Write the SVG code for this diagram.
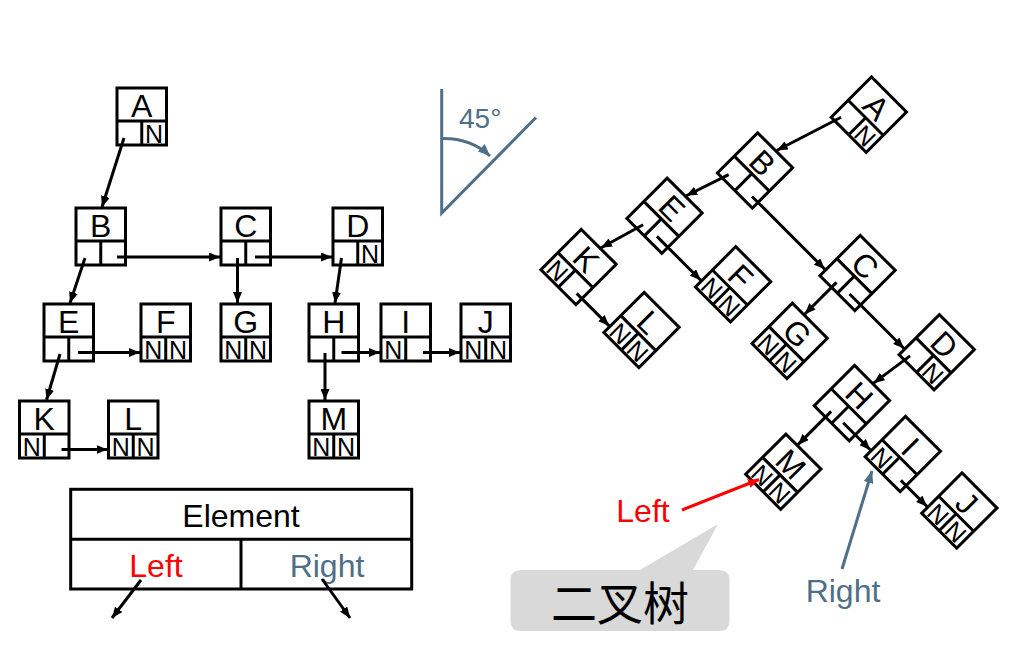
<svg xmlns="http://www.w3.org/2000/svg" xmlns:xlink="http://www.w3.org/1999/xlink" width="1029" height="667" viewBox="0 0 1029 667">
<style>
.bx{fill:none;stroke:#000;stroke-width:3}
.lbl{font-family:"Liberation Sans",Arial,sans-serif;font-size:32px;text-anchor:middle;fill:#000}
.n{font-family:"Liberation Sans",Arial,sans-serif;font-size:25px;text-anchor:middle;fill:#000}
.cn{fill:none;stroke:#000;stroke-width:3}
.txt{font-family:"Liberation Sans",Arial,sans-serif;font-size:32px;text-anchor:middle}
.slate{fill:#4F6F88}
.red{fill:#FF0000}
</style>
<defs>
<g id="box" class="bx"><rect x="0" y="0" width="49.5" height="57"/><line x1="0" y1="33" x2="49.5" y2="33"/><line x1="24.75" y1="33" x2="24.75" y2="57"/></g>
<marker id="ah" markerUnits="userSpaceOnUse" markerWidth="11" markerHeight="9" refX="11" refY="4.5" orient="auto"><path d="M0,0 L11,4.5 L0,9 z" fill="#000"/></marker>
<marker id="ahr" markerUnits="userSpaceOnUse" markerWidth="11" markerHeight="9" refX="11" refY="4.5" orient="auto"><path d="M0,0 L11,4.5 L0,9 z" fill="#FF0000"/></marker>
<marker id="ahs" markerUnits="userSpaceOnUse" markerWidth="12" markerHeight="10" refX="12" refY="5" orient="auto"><path d="M0,0 L12,5 L0,10 z" fill="#4F6F88"/></marker>
</defs>
<rect width="1029" height="667" fill="#fff"/>

<!-- Left tree -->
<g id="left-tree">
<g id="A" transform="translate(117,88)"><use xlink:href="#box"/><text class="lbl" x="24.75" y="29">A</text><text class="n" x="37.1" y="55">N</text></g>
<g id="B" transform="translate(76,208)"><use xlink:href="#box"/><text class="lbl" x="24.75" y="29">B</text></g>
<g id="C" transform="translate(221,208)"><use xlink:href="#box"/><text class="lbl" x="24.75" y="29">C</text></g>
<g id="D" transform="translate(333,208)"><use xlink:href="#box"/><text class="lbl" x="24.75" y="29">D</text><text class="n" x="37.1" y="55">N</text></g>
<g id="E" transform="translate(44,304)"><use xlink:href="#box"/><text class="lbl" x="24.75" y="29">E</text></g>
<g id="F" transform="translate(141,304)"><use xlink:href="#box"/><text class="lbl" x="24.75" y="29">F</text><text class="n" x="12.4" y="55">N</text><text class="n" x="37.1" y="55">N</text></g>
<g id="G" transform="translate(221,304)"><use xlink:href="#box"/><text class="lbl" x="24.75" y="29">G</text><text class="n" x="12.4" y="55">N</text><text class="n" x="37.1" y="55">N</text></g>
<g id="H" transform="translate(309,304)"><use xlink:href="#box"/><text class="lbl" x="24.75" y="29">H</text></g>
<g id="I" transform="translate(381,304)"><use xlink:href="#box"/><text class="lbl" x="24.75" y="29">I</text><text class="n" x="12.4" y="55">N</text></g>
<g id="J" transform="translate(461,304)"><use xlink:href="#box"/><text class="lbl" x="24.75" y="29">J</text><text class="n" x="12.4" y="55">N</text><text class="n" x="37.1" y="55">N</text></g>
<g id="K" transform="translate(19.5,401)"><use xlink:href="#box"/><text class="lbl" x="24.75" y="29">K</text><text class="n" x="12.4" y="55">N</text></g>
<g id="L" transform="translate(108.5,401)"><use xlink:href="#box"/><text class="lbl" x="24.75" y="29">L</text><text class="n" x="12.4" y="55">N</text><text class="n" x="37.1" y="55">N</text></g>
<g id="M" transform="translate(309,401)"><use xlink:href="#box"/><text class="lbl" x="24.75" y="29">M</text><text class="n" x="12.4" y="55">N</text><text class="n" x="37.1" y="55">N</text></g>
<g id="connectors" class="cn" marker-end="url(#ah)">
<path d="M124,138 L102,207"/>
<path d="M85,258 L70,303"/>
<path d="M117,257 L220,257"/>
<path d="M237.5,258 L237.5,303"/>
<path d="M255,257 L332,257"/>
<path d="M341.5,258 L335,303"/>
<path d="M60,354 L46.5,400"/>
<path d="M78,352.5 L140,352.5"/>
<path d="M325,353 L325,400"/>
<path d="M341.5,352.5 L380,352.5"/>
<path d="M423,352.5 L460,352.5"/>
<path d="M61.5,449.5 L107.5,449.5"/>
</g>
</g>

<!-- Legend -->
<g id="legend">
<rect x="70.7" y="489.3" width="341" height="99.7" class="bx"/>
<line x1="70.7" y1="539.3" x2="411.7" y2="539.3" class="bx"/>
<line x1="241" y1="539.3" x2="241" y2="589" class="bx"/>
<text class="txt" x="241" y="527" fill="#000">Element</text>
<text class="txt red" x="156" y="577">Left</text>
<text class="txt slate" x="327" y="577">Right</text>
<g class="cn" marker-end="url(#ah)">
<path d="M141,580 L112,618"/>
<path d="M322,579 L350,618"/>
</g>
</g>

<!-- Angle -->
<g id="angle" fill="none" stroke="#4F6F88" stroke-width="3">
<path d="M441.7,89 L441.7,213 L536,117.5"/>
<path d="M441.7,138.5 Q471,138 490,156" marker-end="url(#ahs)"/>
<text x="459" y="128" style="font-family:'Liberation Sans',Arial,sans-serif;font-size:28px" fill="#4F6F88" stroke="none">45°</text>
</g>

<!-- Right tree (rotated 45°) -->
<g id="right-tree" transform="translate(851,-68) rotate(45)">
<g id="r-A" transform="translate(117,88)"><use xlink:href="#box"/><text class="lbl" x="24.75" y="29">A</text><text class="n" x="37.1" y="55">N</text></g>
<g id="r-B" transform="translate(76,208)"><use xlink:href="#box"/><text class="lbl" x="24.75" y="29">B</text></g>
<g id="r-C" transform="translate(221,208)"><use xlink:href="#box"/><text class="lbl" x="24.75" y="29">C</text></g>
<g id="r-D" transform="translate(333,208)"><use xlink:href="#box"/><text class="lbl" x="24.75" y="29">D</text><text class="n" x="37.1" y="55">N</text></g>
<g id="r-E" transform="translate(44,304)"><use xlink:href="#box"/><text class="lbl" x="24.75" y="29">E</text></g>
<g id="r-F" transform="translate(141,304)"><use xlink:href="#box"/><text class="lbl" x="24.75" y="29">F</text><text class="n" x="12.4" y="55">N</text><text class="n" x="37.1" y="55">N</text></g>
<g id="r-G" transform="translate(221,304)"><use xlink:href="#box"/><text class="lbl" x="24.75" y="29">G</text><text class="n" x="12.4" y="55">N</text><text class="n" x="37.1" y="55">N</text></g>
<g id="r-H" transform="translate(309,304)"><use xlink:href="#box"/><text class="lbl" x="24.75" y="29">H</text></g>
<g id="r-I" transform="translate(381,304)"><use xlink:href="#box"/><text class="lbl" x="24.75" y="29">I</text><text class="n" x="12.4" y="55">N</text></g>
<g id="r-J" transform="translate(461,304)"><use xlink:href="#box"/><text class="lbl" x="24.75" y="29">J</text><text class="n" x="12.4" y="55">N</text><text class="n" x="37.1" y="55">N</text></g>
<g id="r-K" transform="translate(19.5,401)"><use xlink:href="#box"/><text class="lbl" x="24.75" y="29">K</text><text class="n" x="12.4" y="55">N</text></g>
<g id="r-L" transform="translate(108.5,401)"><use xlink:href="#box"/><text class="lbl" x="24.75" y="29">L</text><text class="n" x="12.4" y="55">N</text><text class="n" x="37.1" y="55">N</text></g>
<g id="r-M" transform="translate(309,401)"><use xlink:href="#box"/><text class="lbl" x="24.75" y="29">M</text><text class="n" x="12.4" y="55">N</text><text class="n" x="37.1" y="55">N</text></g>
<g id="r-connectors" class="cn" marker-end="url(#ah)">
<path d="M124,138 L102,207"/>
<path d="M85,258 L70,303"/>
<path d="M117,257 L220,257"/>
<path d="M237.5,258 L237.5,303"/>
<path d="M255,257 L332,257"/>
<path d="M341.5,258 L335,303"/>
<path d="M60,354 L46.5,400"/>
<path d="M78,352.5 L140,352.5"/>
<path d="M325,353 L325,400"/>
<path d="M341.5,352.5 L380,352.5"/>
<path d="M423,352.5 L460,352.5"/>
<path d="M61.5,449.5 L107.5,449.5"/>
</g>
</g>

<!-- Annotations -->
<g id="left-label">
<path d="M682,510 L759,479.5" fill="none" stroke="#FF0000" stroke-width="3" marker-end="url(#ahr)"/>
<text class="txt red" x="643" y="522">Left</text>
</g>
<g id="right-label">
<path d="M842,569 L872,471" fill="none" stroke="#4F6F88" stroke-width="3" marker-end="url(#ahs)"/>
<text class="txt slate" x="843" y="602">Right</text>
</g>
<g id="callout">
<path d="M521,570 L640,570 L718,524 L693,570 L719,570 Q729.5,570 729.5,580 L729.5,621 Q729.5,631 719,631 L521,631 Q510.5,631 510.5,621 L510.5,580 Q510.5,570 521,570 Z" fill="#D9D9D9"/>
<text x="620" y="620" text-anchor="middle" style="font-family:'Noto Sans CJK SC',sans-serif;font-size:46px" fill="#000">二叉树</text>
</g>
</svg>
